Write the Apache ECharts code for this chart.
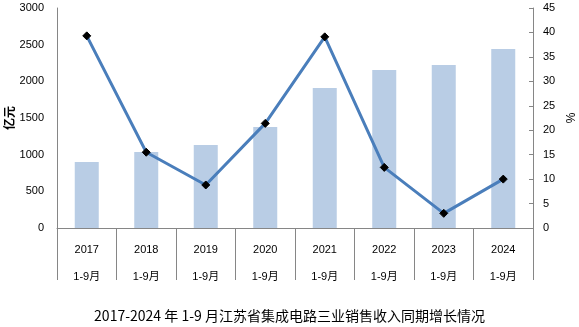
<!DOCTYPE html>
<html><head><meta charset="utf-8">
<script src="https://cdn.jsdelivr.net/npm/echarts@6/dist/echarts.min.js"></script>
<style>html,body{margin:0;padding:0;background:#fff}#c{width:579px;height:327px}</style>
</head><body><div id="c"></div>
<script>
var years = ['2017','2018','2019','2020','2021','2022','2023','2024'];
var period = '1-9月';
var revenue = [900, 1036, 1132, 1377, 1909, 2155, 2223, 2441];
var growth = [39.3, 15.5, 8.8, 21.4, 39.1, 12.4, 3.0, 10.0];
var title = '2017-2024 年 1-9 月江苏省集成电路三业销售收入同期增长情况';
var font = '"Liberation Sans", "Noto Sans CJK SC", sans-serif';
var chart = echarts.init(document.getElementById('c'));
chart.setOption({
  animation: false,
  textStyle: {fontFamily: font},
  title: {text: title, left: 'center', top: 304, textStyle: {fontSize: 14, fontWeight: 'normal', color: '#000', fontFamily: '"Noto Sans CJK SC", sans-serif'}},
  grid: {left: 57, right: 46, top: 8, bottom: 99, containLabel: false, outerBoundsMode: 'none'},
  xAxis: {
    type: 'category', data: years.map(function(y){return y + '\n' + period;}),
    boundaryGap: true,
    axisLine: {show: true, lineStyle: {color: '#868686'}},
    axisTick: {show: true, length: 52, alignWithLabel: false, interval: 0, lineStyle: {color: '#868686'}},
    axisLabel: {color: '#000', fontSize: 11, lineHeight: 27, margin: 8, interval: 0}
  },
  yAxis: [{
    type: 'value', min: 0, max: 3000, interval: 500,
    name: '亿元', nameLocation: 'middle', nameGap: 42, nameRotate: 90, nameMoveOverlap: false,
    nameTextStyle: {color: '#000', fontSize: 12, fontWeight: 'bold', fontFamily: '"Noto Sans CJK SC", sans-serif'},
    axisLine: {show: true, lineStyle: {color: '#868686'}},
    axisTick: {show: false},
    splitLine: {show: false},
    axisLabel: {color: '#000', fontSize: 11, margin: 13, formatter: function(v){return String(v);}}
  }, {
    type: 'value', min: 0, max: 45, interval: 5, position: 'right',
    name: '%', nameLocation: 'middle', nameGap: 33, nameRotate: 90, nameMoveOverlap: false,
    nameTextStyle: {color: '#000', fontSize: 12},
    axisLine: {show: true, lineStyle: {color: '#868686'}},
    axisTick: {show: true, inside: true, length: 4, lineStyle: {color: '#868686'}},
    splitLine: {show: false},
    axisLabel: {color: '#000', fontSize: 11, margin: 10}
  }],
  series: [{
    type: 'bar', data: revenue, barWidth: 24, yAxisIndex: 0,
    itemStyle: {color: '#B9CDE5'}
  }, {
    type: 'line', data: growth, yAxisIndex: 1,
    lineStyle: {color: '#4A7EBB', width: 3},
    symbol: 'diamond', symbolSize: 8,
    itemStyle: {color: '#000', borderColor: '#000'},
    z: 5
  }]
});
</script></body></html>
